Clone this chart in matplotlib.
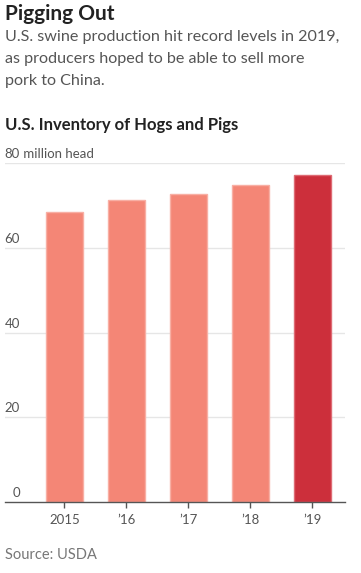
import matplotlib.pyplot as plt

# data (million head)
years = ["2015", "\u201916", "\u201917", "\u201918", "\u201919"]
inventory = [68.5, 71.3, 72.8, 74.9, 77.1]
bar_colors = ["#F48676", "#F48676", "#F48676", "#F48676", "#CC2F3B"]
edge_colors = ["#F8AFA4", "#F8AFA4", "#F8AFA4", "#F8AFA4", "#DE6B74"]
yticks = [0, 20, 40, 60, 80]

plt.rcParams['font.family'] = ['Lato', 'DejaVu Sans']

W, H = 361, 573
fig = plt.figure(figsize=(W / 100, H / 100), dpi=100)

# axes box in pixels: left 5, right 345, top at 80 (y=163), bottom y=502
ax = fig.add_axes([5 / W, 1 - 502 / H, 340 / W, (502 - 163) / H])
x = list(range(len(years)))
ax.bar(x, inventory, width=0.6, color=bar_colors, edgecolor=edge_colors, linewidth=1, zorder=2)
ax.set_xlim(-0.96, 4.53)
ax.set_ylim(0, 80)

for v in yticks[1:]:
    ax.axhline(v, color="#E6E6E6", lw=1, zorder=1)

for s in ["top", "right", "left"]:
    ax.spines[s].set_visible(False)
ax.spines["bottom"].set_color("#555555")
ax.spines["bottom"].set_linewidth(1)
ax.spines["bottom"].set_zorder(3)

ax.set_yticks([])
ax.set_xticks(x)
ax.set_xticklabels(years, fontsize=9.5, color="#555555")
ax.tick_params(axis="x", length=4, width=1, color="#555555", pad=5)

# y tick labels sit above grid lines, right aligned at x=20px
for v in yticks:
    yy = 1 - (502 - v * 339 / 80 - 3) / H
    fig.text(20 / W, yy, str(v), ha="right", va="bottom", fontsize=9.5, color="#555555")
fig.text(20 / W, 1 - (163 - 3) / H, " million head", ha="left", va="bottom",
         fontsize=9.5, color="#555555")

fig.text(5 / W, 1 - 4 / H, "Pigging Out", ha="left", va="top", fontsize=15,
         fontweight="bold", color="#222222")
fig.text(5 / W, 1 - 30 / H,
         "U.S. swine production hit record levels in 2019,\nas producers hoped to be able to sell more\npork to China.",
         ha="left", va="top", fontsize=11.6, color="#555555", linespacing=1.75)
fig.text(5 / W, 1 - 117 / H, "U.S. Inventory of Hogs and Pigs", ha="left", va="top",
         fontsize=12, fontweight="bold", color="#222222")
fig.text(5 / W, 1 - 548 / H, "Source: USDA", ha="left", va="top", fontsize=10.5, color="#777777")

fig.savefig("out.png", dpi=100)
